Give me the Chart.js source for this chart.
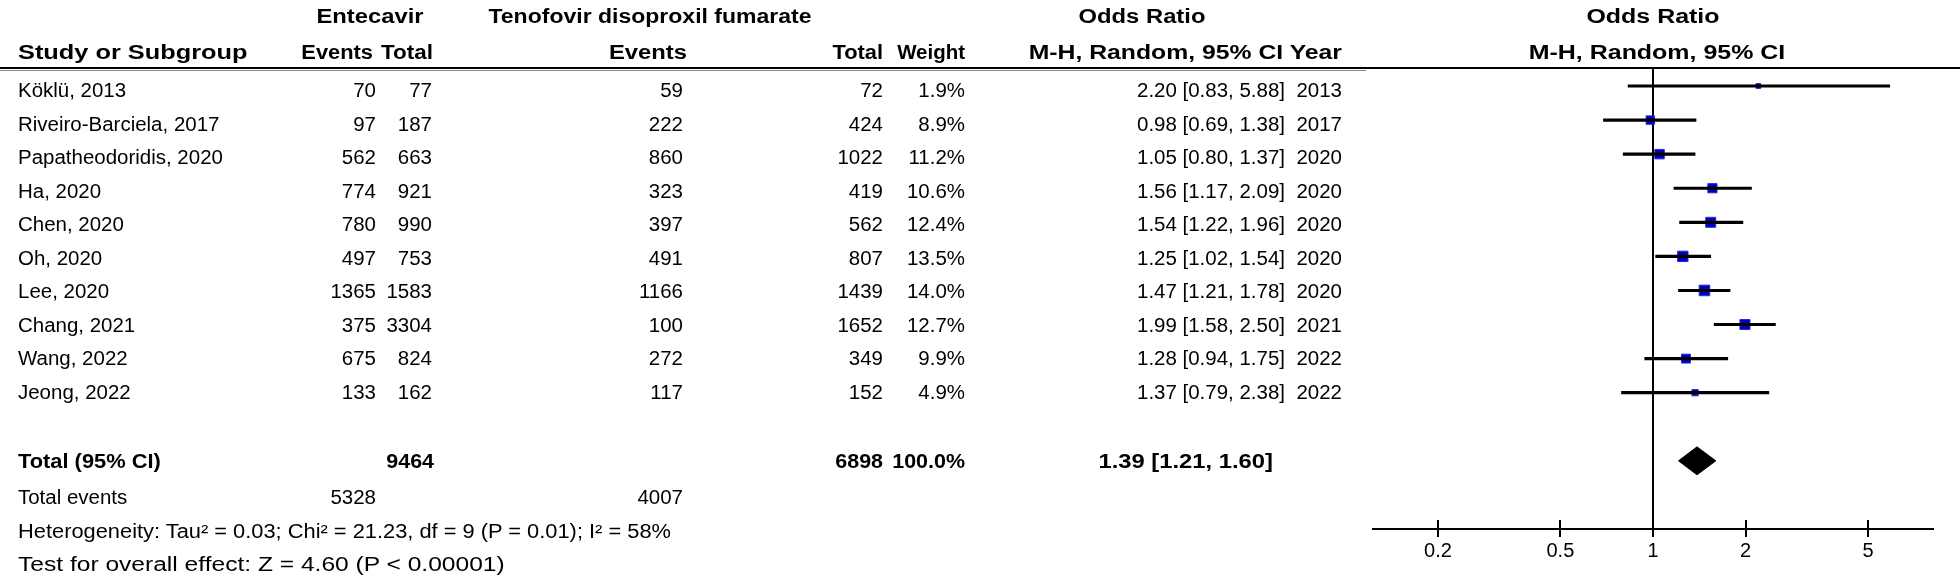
<!DOCTYPE html>
<html><head><meta charset="utf-8">
<script src="https://cdn.jsdelivr.net/npm/chart.js@4.4.0/dist/chart.umd.min.js"></script>
<style>
html,body{margin:0;padding:0;background:#fff;}
#wrap{position:relative;width:1960px;height:586px;overflow:hidden;background:#fff;}
#c{position:absolute;left:0;top:0;}
.t{position:absolute;white-space:nowrap;font-family:"Liberation Sans",Arial,sans-serif;font-size:19.5px;line-height:1;color:#000;}
.b{font-weight:bold;}
</style></head><body>
<div id="wrap"><canvas id="c" width="1960" height="586"></canvas></div>
<script>
// ---- data ----
const studies = ['Köklü, 2013','Riveiro-Barciela, 2017','Papatheodoridis, 2020','Ha, 2020','Chen, 2020','Oh, 2020','Lee, 2020','Chang, 2021','Wang, 2022','Jeong, 2022'];
const entEvents = [70, 97, 562, 774, 780, 497, 1365, 375, 675, 133];
const entTotal  = [77, 187, 663, 921, 990, 753, 1583, 3304, 824, 162];
const tdfEvents = [59, 222, 860, 323, 397, 491, 1166, 100, 272, 117];
const tdfTotal  = [72, 424, 1022, 419, 562, 807, 1439, 1652, 349, 152];
const weights   = [1.9, 8.9, 11.2, 10.6, 12.4, 13.5, 14.0, 12.7, 9.9, 4.9];
const oddsRatio = [2.20, 0.98, 1.05, 1.56, 1.54, 1.25, 1.47, 1.99, 1.28, 1.37];
const ciLow     = [0.83, 0.69, 0.80, 1.17, 1.22, 1.02, 1.21, 1.58, 0.94, 0.79];
const ciHigh    = [5.88, 1.38, 1.37, 2.09, 1.96, 1.54, 1.78, 2.50, 1.75, 2.38];
const years     = [2013, 2017, 2020, 2020, 2020, 2020, 2020, 2021, 2022, 2022];
const totalEnt = 9464, totalTdf = 6898, totalWeight = 100.0;
const totalEventsEnt = 5328, totalEventsTdf = 4007;
const totalOR = 1.39, totalLow = 1.21, totalHigh = 1.60;
const tickValues = [0.2, 0.5, 1, 2, 5];
const heterogeneityText = 'Heterogeneity: Tau² = 0.03; Chi² = 21.23, df = 9 (P = 0.01); I² = 58%';
const overallText = 'Test for overall effect: Z = 4.60 (P < 0.00001)';

const TOTAL_ROW = 11;     // row index of the pooled estimate
const DH = 0.41;          // half height of diamond in row units

const fmt2 = v => v.toFixed(2);
const orText = (o,l,h) => `${fmt2(o)} [${fmt2(l)}, ${fmt2(h)}]`;

// ---- text table (HTML) ----
const wrap = document.getElementById('wrap');
const SX_B = 1.22, SX_R = 1.05;
function txt(s, x, y, align, bold, sx){
  const d = document.createElement('div');
  d.className = 't' + (bold ? ' b' : '');
  d.textContent = s;
  d.style.left = x + 'px'; d.style.top = y + 'px';
  const tx = align === 'right' ? '-100%' : align === 'center' ? '-50%' : '0';
  const ox = align === 'right' ? '100%' : align === 'center' ? '50%' : '0';
  d.style.transformOrigin = ox + ' 50%';
  d.style.transform = `translate(${tx},-50%) scaleX(${sx || (bold ? SX_B : SX_R)})`;
  wrap.appendChild(d);
}
const H1 = 17, H2 = 53;
txt('Entecavir', 370, H1, 'center', true);
txt('Tenofovir disoproxil fumarate', 650, H1, 'center', true, 1.18);
txt('Odds Ratio', 1142, H1, 'center', true);
txt('Odds Ratio', 1653, H1, 'center', true, 1.28);
txt('Study or Subgroup', 18, H2, 'left', true, 1.3);
txt('Events', 373, H2, 'right', true, 1.12);
txt('Total', 433, H2, 'right', true, 1.15);
txt('Events', 687, H2, 'right', true);
txt('Total', 883, H2, 'right', true, 1.12);
txt('Weight', 965, H2, 'right', true, 1.05);
txt('M-H, Random, 95% CI Year', 1342, H2, 'right', true, 1.27);
txt('M-H, Random, 95% CI', 1657, H2, 'center', true, 1.28);

const rowY = i => 91 + 33.5 * i;
studies.forEach((s, i) => {
  const y = rowY(i);
  txt(s, 18, y, 'left');
  txt(String(entEvents[i]), 376, y, 'right');
  txt(String(entTotal[i]), 432, y, 'right');
  txt(String(tdfEvents[i]), 683, y, 'right');
  txt(String(tdfTotal[i]), 883, y, 'right');
  txt(weights[i].toFixed(1) + '%', 965, y, 'right');
  txt(orText(oddsRatio[i], ciLow[i], ciHigh[i]), 1285, y, 'right');
  txt(String(years[i]), 1342, y, 'right');
});
const TY = 462;
txt('Total (95% CI)', 18, TY, 'left', true, 1.12);
txt(String(totalEnt), 434, TY, 'right', true, 1.1);
txt(String(totalTdf), 883, TY, 'right', true, 1.1);
txt(totalWeight.toFixed(1) + '%', 965, TY, 'right', true, 1.1);
txt(orText(totalOR, totalLow, totalHigh), 1273, TY, 'right', true, 1.22);
txt('Total events', 18, 498, 'left');
txt(String(totalEventsEnt), 376, 498, 'right');
txt(String(totalEventsTdf), 683, 498, 'right');
txt(heterogeneityText, 18, 532, 'left', false, 1.12);
txt(overallText, 18, 565, 'left', false, 1.26);

// ---- chart ----
const refPlugin = {
  id: 'ref',
  beforeDatasetsDraw(ch){
    const {ctx, chartArea: a, scales: {x}} = ch;
    ctx.save();
    ctx.fillStyle = '#000';
    ctx.fillRect(0, a.top - 1, ch.width, 2);
    ctx.fillStyle = '#888';
    ctx.fillRect(0, a.top + 2, 1366, 1);
    ctx.fillStyle = '#000';
    const px = Math.round(x.getPixelForValue(1));
    ctx.fillRect(px - 1, a.top, 2, a.bottom - a.top);
    tickValues.forEach(v => {
      const p = Math.round(x.getPixelForValue(v));
      ctx.fillRect(p - 1, a.bottom - 9, 2, 9);
    });
    ctx.restore();
  }
};

new Chart(document.getElementById('c'), {
  type: 'bar',
  data: { datasets: [
    { type: 'bar', indexAxis: 'y',
      data: studies.map((s, i) => ({ y: i, x: [ciLow[i], ciHigh[i]] })),
      backgroundColor: '#000', barThickness: 2.5 },
    { type: 'scatter',
      data: studies.map((s, i) => ({ x: oddsRatio[i], y: i })),
      pointStyle: 'rect',
      pointRadius: c => Math.max(3.4, 2.0 * Math.sqrt(weights[c.dataIndex])),
      backgroundColor: '#0000c0', borderColor: '#2a2ad8', borderWidth: 1 },
    { type: 'line',
      data: [{x: totalLow, y: TOTAL_ROW}, {x: totalOR, y: TOTAL_ROW - DH}, {x: totalHigh, y: TOTAL_ROW}],
      borderColor: '#000', borderWidth: 1, pointRadius: 0, fill: false, tension: 0 },
    { type: 'line',
      data: [{x: totalLow, y: TOTAL_ROW}, {x: totalOR, y: TOTAL_ROW + DH}, {x: totalHigh, y: TOTAL_ROW}],
      borderColor: '#000', borderWidth: 1, pointRadius: 0, backgroundColor: '#000', fill: '-1', tension: 0 }
  ]},
  options: {
    responsive: false, animation: false, devicePixelRatio: 1,
    layout: { padding: { left: 1373, right: 27, top: 68, bottom: 0 } },
    plugins: { legend: { display: false }, tooltip: { enabled: false } },
    scales: {
      x: { type: 'logarithmic', min: 0.123, max: 8.13, position: 'bottom', offset: false,
        afterBuildTicks: s => { s.ticks = tickValues.map(v => ({ value: v })); },
        afterFit: s => { s.height = 57; },
        ticks: { color: '#000', font: { family: "'Liberation Sans', Arial, sans-serif", size: 20 },
                 padding: 2, autoSkip: false, maxRotation: 0, minRotation: 0,
                 callback: v => String(v) },
        grid: { drawOnChartArea: false, drawTicks: true, tickLength: 8, tickColor: '#000', tickWidth: 2, lineWidth: 2, color: '#000', offset: false },
        border: { display: true, color: '#000', width: 2 }
      },
      y: { type: 'linear', min: -0.528, max: 13, reverse: true, display: false, offset: false, grid: { offset: false } }
    }
  },
  plugins: [refPlugin]
});
</script>
</body></html>
